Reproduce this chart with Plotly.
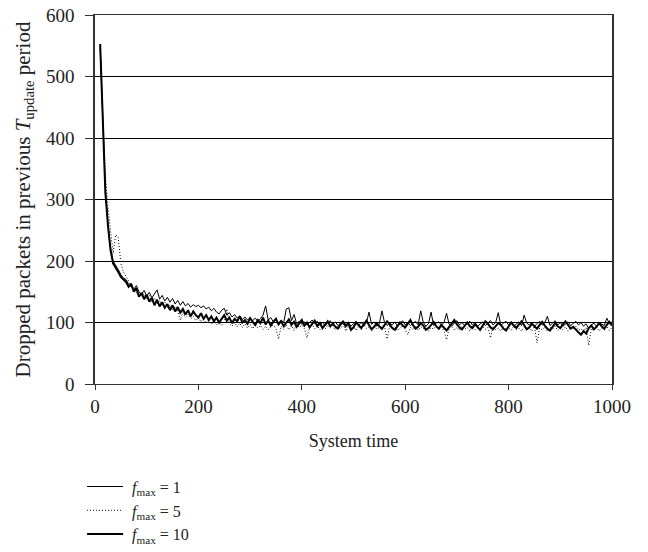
import plotly.graph_objects as go

# System time samples
time = list(range(10, 1001, 5))

# f_max = 1 (thin solid)
f1 = [548, 430, 318, 262, 222, 200, 194, 186, 178, 172,
      170, 162, 158, 154, 160, 150, 146, 152, 143, 149,
      140, 146, 153, 138, 144, 135, 141, 133, 139, 130,
      136, 128, 134, 127, 131, 125, 129, 126, 128, 124,
      127, 122, 125, 119, 123, 117, 114, 120, 123, 112,
      116, 109, 113, 107, 111, 105, 109, 104, 108, 103,
      107, 102, 106, 112, 127, 104, 108, 101, 105, 99,
      104, 100, 122, 124, 103, 113, 98, 102, 97, 101,
      96, 100, 104, 98, 102, 96, 100, 95, 99, 103,
      97, 101, 95, 99, 103, 96, 100, 94, 98, 102,
      96, 100, 95, 99, 117, 97, 101, 94, 98, 119,
      100, 95, 99, 96, 101, 94, 98, 103, 96, 100,
      95, 99, 102, 96, 119, 100, 94, 98, 117, 95,
      99, 101, 96, 100, 115, 97, 94, 99, 103, 96,
      100, 95, 99, 102, 96, 100, 94, 98, 101, 95,
      99, 103, 96, 100, 116, 95, 99, 102, 96, 100,
      94, 98, 101, 95, 112, 99, 96, 100, 94, 98,
      102, 96, 100, 110, 95, 99, 103, 96, 100, 94,
      98, 101, 95, 99, 102, 96, 100, 94, 98, 90,
      96, 99, 94, 100, 97, 95, 107, 98, 101]

# f_max = 5 (dotted)
f5 = [545, 432, 340, 288, 245, 212, 243, 238, 196, 182,
      175, 168, 160, 156, 148, 152, 143, 147, 138, 144,
      134, 140, 130, 136, 127, 133, 124, 129, 121, 126,
      118, 104, 116, 108, 113, 106, 110, 103, 108, 101,
      106, 99, 104, 97, 103, 96, 101, 95, 100, 122,
      98, 94, 100, 93, 99, 92, 98, 91, 97, 90,
      96, 91, 95, 89, 94, 88, 93, 96, 90, 73,
      94, 89, 96, 88, 95, 87, 99, 92, 96, 90,
      75, 92, 97, 90, 95, 88, 94, 89, 96, 91,
      95, 88, 94, 90, 97, 86, 93, 89, 95, 87,
      94, 88, 96, 90, 93, 86, 95, 89, 92, 88,
      94, 73, 95, 89, 93, 87, 91, 95, 88, 80,
      92, 89, 95, 87, 93, 90, 94, 86, 92, 89,
      95, 88, 93, 86, 72, 91, 94, 88, 92, 87,
      94, 89, 92, 86, 95, 88, 91, 87, 93, 89,
      92, 75, 94, 88, 91, 86, 93, 89, 92, 87,
      94, 88, 91, 86, 93, 89, 92, 86, 94, 67,
      91, 88, 93, 86, 92, 89, 94, 87, 91, 88,
      93, 86, 92, 89, 94, 87, 90, 85, 92, 63,
      90, 87, 93, 86, 91, 88, 94, 87, 92]

# f_max = 10 (thick solid)
f10 = [553, 415, 312, 258, 218, 196, 190, 182, 174, 170,
       166, 158, 163, 150, 156, 142, 148, 138, 145, 134,
       140, 128, 137, 126, 133, 124, 130, 120, 128, 118,
       125, 116, 122, 113, 120, 110, 118, 112, 108, 115,
       106, 112, 104, 110, 102, 108, 100, 106, 112, 103,
       108, 99, 106, 102, 110, 100, 104, 98, 107, 101,
       96, 104, 99, 108, 97, 103, 95, 101, 106, 97,
       102, 94, 100, 105, 96, 101, 93, 99, 104, 95,
       100, 92, 98, 103, 94, 99, 91, 97, 102, 94,
       98, 93, 90, 97, 101, 94, 99, 88, 92, 100,
       95, 91, 97, 103, 96, 89, 93, 99, 94, 90,
       96, 102, 97, 91, 88, 94, 100, 95, 92, 98,
       104, 96, 90, 93, 99, 95, 88, 91, 97, 101,
       94, 90, 96, 92, 87, 93, 99, 104, 97, 92,
       89, 95, 100, 94, 91, 97, 93, 88, 95, 102,
       98, 92, 89, 94, 99, 96, 90, 87, 93, 100,
       95, 91, 97, 102, 96, 89, 92, 98, 94, 90,
       96, 101, 95, 90, 87, 93, 99, 94, 91, 97,
       102, 96, 90, 93, 88, 84, 80, 86, 82, 91,
       95, 89, 93, 99, 94, 90, 96, 101, 95]

names = ["\u00a0<i>f</i><sub>max</sub> = 1",
         "\u00a0<i>f</i><sub>max</sub> = 5",
         "\u00a0<i>f</i><sub>max</sub> = 10"]

FONT = "Liberation Serif"

fig = go.Figure()
fig.add_trace(go.Scatter(x=time, y=f1, mode="lines", name=names[0],
                         line=dict(color="black", width=1)))
fig.add_trace(go.Scatter(x=time, y=f5, mode="lines", name=names[1],
                         line=dict(color="black", width=1, dash="1px,2px")))
fig.add_trace(go.Scatter(x=time, y=f10, mode="lines", name=names[2],
                         line=dict(color="black", width=2)))

fig.update_layout(
    width=648, height=552,
    margin=dict(l=87, r=44, t=7, b=176, autoexpand=False),
    paper_bgcolor="white", plot_bgcolor="white",
    font=dict(family=FONT, size=19, color="#222"),
    showlegend=True,
    legend=dict(x=-0.025, y=-0.232, xanchor="left", yanchor="top",
                bgcolor="rgba(0,0,0,0)", font=dict(size=16),
                tracegroupgap=0, itemwidth=36),
    xaxis=dict(range=[0, 1000], tickvals=[0, 200, 400, 600, 800, 1000],
               showgrid=False, zeroline=False, automargin=False,
               showline=True, linecolor="#333", linewidth=1, mirror=True,
               ticks="outside", ticklen=5, tickcolor="#333",
               ticklabeloverflow="allow",
               tickfont=dict(size=19),
               title=dict(text="System time", standoff=18, font=dict(size=18))),
    yaxis=dict(range=[0, 600], tickvals=[0, 100, 200, 300, 400, 500, 600],
               showgrid=True, gridcolor="black", gridwidth=1, zeroline=False,
               automargin=False,
               showline=True, linecolor="#333", linewidth=1.5, mirror=True,
               ticks="outside", ticklen=8, tickcolor="#333",
               ticklabelstandoff=7, ticklabeloverflow="allow",
               tickfont=dict(size=19),
               title=dict(text="Dropped packets in previous <i>T</i><sub>update</sub> period",
                          standoff=10, font=dict(size=21))),
)

fig.write_html("out.html")
